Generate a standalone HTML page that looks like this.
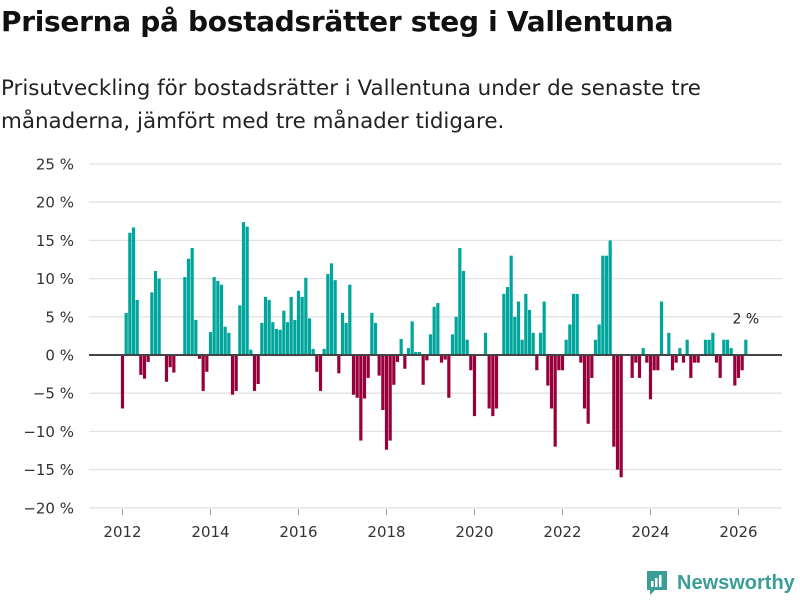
<!DOCTYPE html>
<html><head><meta charset="utf-8"><style>
body{margin:0;background:#fff;font-family:"DejaVu Sans","Liberation Sans",sans-serif;}
#wrap{position:relative;width:800px;height:600px;overflow:hidden;}
h1{position:absolute;left:1px;top:5px;margin:0;font-size:28px;font-weight:bold;color:#111;letter-spacing:-0.3px;white-space:nowrap;}
.sub{position:absolute;left:1px;top:72px;margin:0;font-size:21.4px;line-height:33px;color:#222;white-space:nowrap;}
</style></head><body>
<div id="wrap">
<h1>Priserna på bostadsrätter steg i Vallentuna</h1>
<p class="sub">Prisutveckling för bostadsrätter i Vallentuna under de senaste tre<br>månaderna, jämfört med tre månader tidigare.</p>
<svg id="chart" width="800" height="600" style="position:absolute;left:0;top:0"></svg>
<div style="position:absolute;left:645px;top:569px;display:flex;align-items:center;">
<svg width="24" height="28"><path d="M2 2h20v19h-12l-5 5v-5h-3z" fill="#3a9e96"/><rect x="6" y="12" width="2.5" height="6" fill="#fff"/><rect x="10" y="9" width="2.5" height="9" fill="#fff"/><rect x="14" y="6" width="2.5" height="12" fill="#fff"/></svg>
<span style="font-family:'Liberation Sans',sans-serif;font-size:20px;color:#3a9e96;margin-left:8px;font-weight:bold;">Newsworthy</span>
</div>
</div>
<script>
const startYear = 2012;
const values = [
-7,5.5,16,16.7,7.2,-2.6,-3.1,-0.9,8.2,11,10,0,
-3.5,-1.6,-2.3,0,0,10.2,12.6,14,4.6,-0.5,-4.7,-2.2,
3,10.2,9.7,9.2,3.7,2.9,-5.2,-4.7,6.5,17.4,16.8,0.7,
-4.7,-3.8,4.2,7.6,7.2,4.3,3.4,3.3,5.8,4.3,7.6,4.6,
8.4,7.6,10.1,4.8,0.8,-2.2,-4.7,0.8,10.6,12,9.8,-2.4,
5.5,4.2,9.2,-5.2,-5.6,-11.2,-5.7,-3,5.5,4.2,-2.7,-7.2,
-12.4,-11.2,-3.9,-0.9,2.1,-1.8,0.9,4.4,0.4,0.4,-3.9,-0.7,
2.7,6.3,6.8,-1,-0.6,-5.6,2.7,5,14,11,2,-2,
-8,0,0,2.9,-7,-8,-7,0,8,8.9,13,5,
7,2,8,5.9,2.9,-2,2.9,7,-4,-7,-12,-2,
-2,2,4,8,8,-1,-7,-9,-3,2,4,13,
13,15,-12,-15,-16,0,0,-3,-1,-3,0.9,-1,
-5.8,-2,-2,7,0,2.9,-2,-1,0.9,-1,2,-3,
-1,-1,0,2,2,2.9,-1,-3,2,2,0.9,-4,
-3,-2,2];
const yTicks = [25,20,15,10,5,0,-5,-10,-15,-20];
const xTickYears = [2012,2014,2016,2018,2020,2022,2024,2026];
const lastLabel = "2 %";

const svg = document.getElementById('chart');
const NS = 'http://www.w3.org/2000/svg';
const FONT = 'DejaVu Sans, Liberation Sans, sans-serif';
const y = v => 355 - v * 7.64;
const x = m => 122.5 + m * 44 / 12;
function mk(tag, attrs){const e=document.createElementNS(NS,tag);for(const k in attrs)e.setAttribute(k,attrs[k]);svg.appendChild(e);return e;}

yTicks.forEach(t=>{
  if(t!==0){const g=mk('line',{x1:89,x2:782,y1:y(t),y2:y(t),stroke:'#e2e2e2','stroke-width':1.3});
  
  }
  const l=mk('text',{x:74,y:y(t)+5.5,'text-anchor':'end','font-size':15,fill:'#333','font-family':FONT});
  l.textContent=(t<0?'−'+Math.abs(t):t)+' %';
  
  
});
xTickYears.forEach(yr=>{
  const m=(yr-startYear)*12;
  const tk=mk('line',{x1:x(m),x2:x(m),y1:509,y2:515,stroke:'#999','stroke-width':1});
  
  
  const l=mk('text',{x:x(m),y:537,'text-anchor':'middle','font-size':15,fill:'#333','font-family':FONT});
  l.textContent=yr;
  
  
});
values.forEach((v,i)=>{
  if(v===0)return;
  const top=Math.min(y(v),y(0)), h=Math.abs(y(v)-y(0));
  const b=mk('rect',{x:x(i)-1.6,y:top,width:3.2,height:h,fill:v>0?'#00a59b':'#98003c'});
  
  
});
const z=mk('line',{x1:89,x2:782,y1:y(0),y2:y(0),stroke:'#444','stroke-width':2});


const li=values.length-1;
const lab=mk('text',{x:x(li),y:y(values[li])-16,'text-anchor':'middle','font-size':14,fill:'#222','font-family':FONT});
lab.textContent=lastLabel;


</script>
</body></html>
